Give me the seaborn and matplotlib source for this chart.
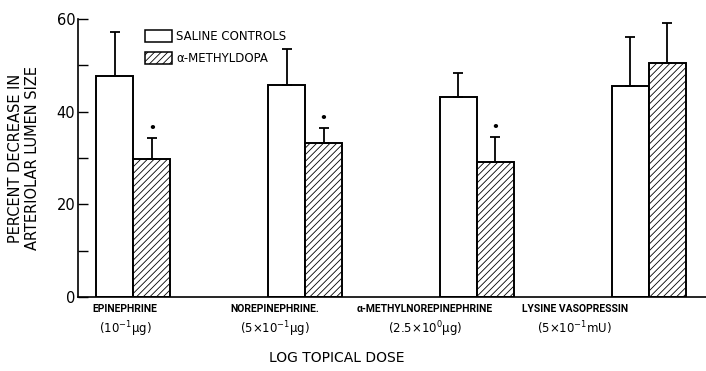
import numpy as np
import pandas as pd
import matplotlib
matplotlib.use("Agg")
import matplotlib.pyplot as plt
import seaborn as sns
from matplotlib.patches import Patch

# ---------------- data ----------------
drugs = ["EPINEPHRINE", "NOREPINEPHRINE.", "α-METHYLNOREPINEPHRINE", "LYSINE VASOPRESSIN"]
doses = ["(10$^{-1}$μg)", "(5×10$^{-1}$μg)", "(2.5×10$^{0}$μg)", "(5×10$^{-1}$mU)"]
groups = ["SALINE CONTROLS", "α-METHYLDOPA"]
saline_mean = [47.7, 45.8, 43.2, 45.6]
saline_err = [9.5, 7.8, 5.2, 10.6]
methyldopa_mean = [29.8, 33.2, 29.1, 50.5]
methyldopa_err = [4.5, 3.3, 5.4, 8.7]
significant = [True, True, True, False]
y_major = [0, 20, 40, 60]
y_minor = [10, 30, 50]

sns.set_theme(style="white")
plt.rcParams["font.family"] = ["DejaVu Sans"]
plt.rcParams["hatch.linewidth"] = 0.6
plt.rcParams["hatch.color"] = "black"
plt.rcParams["text.color"] = "black"
plt.rcParams["axes.labelcolor"] = "black"
plt.rcParams["xtick.color"] = "black"
plt.rcParams["ytick.color"] = "black"

df = pd.DataFrame({
    "drug": drugs * 2,
    "group": [groups[0]] * len(drugs) + [groups[1]] * len(drugs),
    "value": saline_mean + methyldopa_mean,
})

W, H = 706, 371
fig = plt.figure(figsize=(W / 100, H / 100), dpi=100)
ax = fig.add_axes([78 / W, 1 - 297 / H, 1 - 78 / W, (297 - 19) / H])

sns.barplot(data=df, x="drug", y="value", hue="group", order=drugs, hue_order=groups,
            palette=["white", "white"], saturation=1, edgecolor="black", linewidth=1.4,
            width=0.43, errorbar=None, legend=False, ax=ax)

bar_containers = list(ax.containers)
hatch = "/////"
for p in bar_containers[1]:
    p.set_hatch(hatch)

errs = [saline_err, methyldopa_err]
means = [saline_mean, methyldopa_mean]
for i, cont in enumerate(bar_containers):
    xs = [p.get_x() + p.get_width() / 2 for p in cont]
    ax.errorbar(xs, means[i], yerr=[np.zeros(len(xs)), errs[i]], fmt="none",
                ecolor="black", elinewidth=1.3, capsize=3.5, capthick=1.3, zorder=1)
    if i == 1:
        for x, m, e, s in zip(xs, means[i], errs[i], significant):
            if s:
                ax.annotate("•", (x, m + e), xytext=(0, 2), textcoords="offset points",
                            ha="center", va="bottom", fontsize=9, fontweight="bold",
                            color="black")

ax.set_ylim(0, 60)
ax.set_xlim(-0.322, 3.333)
ax.set_yticks(y_major)
ax.set_yticks(y_minor, minor=True)
ax.set_yticklabels([str(v) for v in y_major], fontsize=10.5)
ax.tick_params(axis="y", which="both", direction="in", length=7, width=1.0,
               color="black", labelcolor="black", pad=2, left=True)
ax.set_xticks([])
ax.set_xlabel("")
ax.set_ylabel("PERCENT DECREASE IN\nARTERIOLAR LUMEN SIZE", fontsize=10.5,
              color="black", labelpad=12, linespacing=1.15)
for s in ["top", "right"]:
    ax.spines[s].set_visible(False)
for s in ["left", "bottom"]:
    ax.spines[s].set_color("black")
    ax.spines[s].set_linewidth(1.2)

# category labels (evenly spaced on their own axis)
ax2 = ax.twiny()
ax2.set_xlim(-0.313, 3.873)
for s in ax2.spines.values():
    s.set_visible(False)
ax2.xaxis.set_ticks_position("bottom")
ax2.xaxis.remove_overlapping_locs = False
ax2.set_xticks(range(len(drugs)))
ax2.set_xticklabels(drugs, fontsize=7.5, fontweight="bold", family=["Roboto", "DejaVu Sans"])
ax2.set_xticks(range(len(drugs)), minor=True)
ax2.set_xticklabels(doses, minor=True, fontsize=8.5)
ax2.tick_params(axis="x", which="major", length=0, pad=5, labelcolor="black")
ax2.tick_params(axis="x", which="minor", length=0, pad=16, labelcolor="black")

fig.text(337 / W, 1 - 358 / H, "LOG TOPICAL DOSE", ha="center", va="center",
         fontsize=10, color="black")

handles = [Patch(facecolor="white", edgecolor="black", linewidth=1.1),
           Patch(facecolor="white", edgecolor="black", linewidth=1.1, hatch=hatch)]
leg = ax.legend(handles, groups, loc="upper left",
                bbox_to_anchor=((145 - 78) / 628, (297 - 30) / 278),
                frameon=False, fontsize=8.5, handlelength=2.3, handleheight=1.15,
                handletextpad=0.35, labelspacing=0.75, borderpad=0, borderaxespad=0)
for t in leg.get_texts():
    t.set_color("black")

fig.savefig("out.png", dpi=100, facecolor="white")
